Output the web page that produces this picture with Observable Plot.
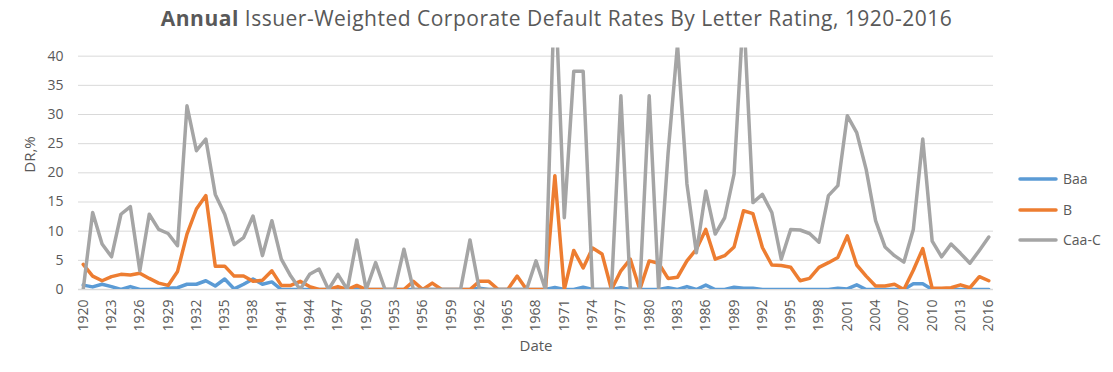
<!DOCTYPE html>
<html>
<head>
<meta charset="utf-8">
<script src="https://cdn.jsdelivr.net/npm/d3@7"></script>
<script src="https://cdn.jsdelivr.net/npm/@observablehq/plot@0.6"></script>
<style>
  html, body { margin: 0; padding: 0; background: #fff; }
  #title { width: 1113px; height: 38px; line-height: 36px; text-align: center;
           font-family: "Open Sans", sans-serif; font-size: 21px; letter-spacing: 0.5px; color: #595959; white-space: nowrap; }
  #title b { font-weight: 700; }
</style>
</head>
<body>
<div id="title"><b>Annual</b> Issuer-Weighted Corporate Default Rates By Letter Rating, 1920-2016</div>
<div id="chart"></div>
<script>
const firstYear = 1920;
const seriesNames = ["Baa", "B", "Caa-C"];
const seriesColors = ["#5b9bd5", "#ed7d31", "#a5a5a5"];
const xTickLabels = [1920,1923,1926,1929,1932,1935,1938,1941,1944,1947,1950,1953,1956,1959,1962,1965,1968,1971,1974,1977,1980,1983,1986,1989,1992,1995,1998,2001,2004,2007,2010,2013,2016];
const yTickLabels = [0,5,10,15,20,25,30,35,40];

const baa = [
  0.75,0.45,0.9,0.5,0,0.5,0,0,0,0.2,
  0.3,0.9,0.9,1.5,0.6,1.8,0.1,0.9,1.8,0.9,
  1.3,0,0,0,0,0,0,0.2,0,0.3,
  0,0,0,0,0,0,0,0,0,0,
  0,0,0.2,0,0,0,0,0,0,0,
  0.35,0,0,0.4,0,0,0,0.3,0,0,
  0,0,0.3,0,0.5,0,0.75,0,0,0.4,
  0.2,0.2,0,0,0,0,0,0,0,0,
  0.2,0.1,0.8,0,0,0,0,0,1.0,1.0,
  0,0,0,0,0,0,0
];
const b = [
  4.3,2.3,1.5,2.2,2.6,2.5,2.8,1.9,1.1,0.7,
  3.1,9.5,13.8,16.1,4.0,4.0,2.3,2.3,1.4,1.6,
  3.2,0.7,0.7,1.4,0.5,0,0,0.5,0,0.7,
  0,0,0,0,0,1.4,0,1.1,0,0,
  0,0,1.4,1.4,0,0,2.3,0,0,0,
  19.5,0,6.7,3.7,7.1,6.1,0,3.2,5.2,0,
  4.9,4.5,1.9,2.1,4.9,6.9,10.3,5.2,5.8,7.3,
  13.5,13.0,7.2,4.2,4.1,3.8,1.5,1.9,3.8,4.6,
  5.5,9.2,4.2,2.3,0.6,0.6,0.9,0,3.3,7.0,
  0.2,0.2,0.3,0.8,0.3,2.2,1.5
];
const caaC = [
  0,13.2,7.8,5.6,12.9,14.2,3.2,12.9,10.3,9.6,
  7.5,31.5,23.8,25.8,16.3,12.9,7.7,8.9,12.6,5.8,
  11.8,5.2,2.3,0,2.6,3.5,0,2.6,0,8.5,
  0,4.6,0,0,6.9,0,0,0,0,0,
  0,8.5,0,0,0,0,0,0,4.9,0,
  53,12.3,37.4,37.4,0,0,0,33.2,0,0,
  33.2,0,23.3,42,18.1,6.3,16.9,9.5,12.3,19.8,
  48,14.9,16.3,13.2,5.2,10.3,10.2,9.6,8.1,16.1,
  17.8,29.8,26.9,20.6,11.8,7.3,5.8,4.7,10.3,25.8,
  8.3,5.6,7.8,6.2,4.5,6.7,9.0
];

const seriesValues = [baa, b, caaC];
const rows = [];
seriesValues.forEach((vals, s) => {
  vals.forEach((v, i) => rows.push({ year: firstYear + i, series: seriesNames[s], value: v }));
});
const lastYear = firstYear + baa.length - 1;

const chart = Plot.plot({
  width: 1113,
  height: 334,
  marginTop: 9.5,
  marginBottom: 83,
  marginLeft: 78,
  marginRight: 120,
  style: { fontFamily: "Open Sans, sans-serif", fontSize: "14px", color: "#595959", background: "#fff" },
  x: { type: "linear", domain: [firstYear - 0.5, lastYear + 0.5], label: null },
  y: { domain: [0, 41.4], label: null },
  color: { domain: seriesNames, range: seriesColors },
  marks: [
    Plot.gridY(yTickLabels, { stroke: "#d9d9d9", strokeOpacity: 1, strokeWidth: 1 }),
    Plot.ruleY([0], { stroke: "#d9d9d9", strokeWidth: 1.5 }),
    Plot.axisY(yTickLabels, { tickSize: 0, tickPadding: 15, fontSize: 14, fill: "#595959", label: null }),
    Plot.axisX(xTickLabels, { tickSize: 0, tickPadding: 10, tickRotate: -90, tickFormat: d => String(d), fontSize: 14, fill: "#595959", label: null }),
    Plot.line(rows, { x: "year", y: "value", z: "series", stroke: "series", strokeWidth: 3.5, strokeLinejoin: "round", strokeLinecap: "round", clip: true }),
    Plot.text(["Date"], { frameAnchor: "bottom", dy: 61, fontSize: 15, fill: "#595959" }),
    Plot.text(["DR,%"], { frameAnchor: "left", dx: -48, dy: 4, rotate: -90, fontSize: 15, fill: "#595959" })
  ]
});

// Legend on the right
const svg = d3.select(chart);
const legendY = [141, 172, 202];
const lg = svg.append("g").attr("class", "legend").attr("text-anchor", "start");
seriesNames.forEach((name, i) => {
  lg.append("line")
    .attr("x1", 1020).attr("x2", 1056)
    .attr("y1", legendY[i]).attr("y2", legendY[i])
    .attr("stroke", seriesColors[i]).attr("stroke-width", 3.5).attr("stroke-linecap", "round");
  lg.append("text")
    .attr("x", 1063).attr("y", legendY[i]).attr("dy", "0.35em")
    .attr("text-anchor", "start")
    .attr("fill", "#595959").attr("font-size", 14)
    .text(name);
});

document.getElementById("chart").appendChild(chart);
</script>
</body>
</html>
